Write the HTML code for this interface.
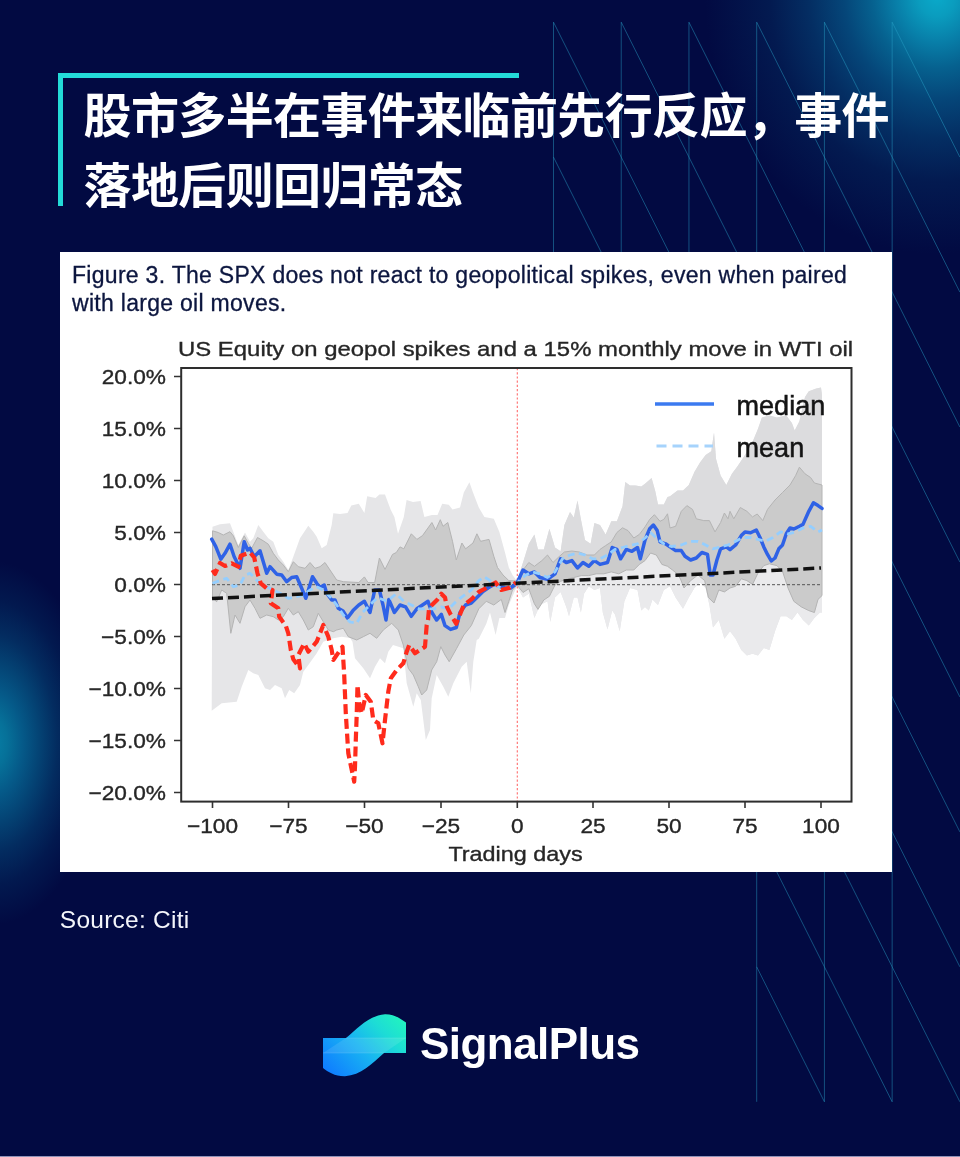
<!DOCTYPE html>
<html lang="zh-CN">
<head>
<meta charset="utf-8">
<title>SignalPlus</title>
<style>
html,body{margin:0;padding:0;}
body{width:960px;height:1157px;overflow:hidden;position:relative;background:#020a42;font-family:"Liberation Sans","Noto Sans CJK SC",sans-serif;}
#bg{position:absolute;left:0;top:0;width:960px;height:1157px;
 background:
  radial-gradient(ellipse 232px 258px at 937px -4px, #0aaaca 0%, #0a9cbe 8%, #087ea8 18%, #06618f 28%, #054679 40%, #042e63 55%, #031a50 72%, rgba(2,10,66,0) 100%),
  radial-gradient(ellipse 108px 182px at -8px 743px, #077fa6 0%, #067199 14%, #055a89 28%, #044374 44%, #032c60 60%, #02194f 78%, rgba(2,10,66,0) 100%),
  #020a42;}
#lines{position:absolute;left:0;top:0;}
#tbar{position:absolute;left:57.5px;top:73px;width:461.5px;height:5px;background:#23dbd8;}
#lbar{position:absolute;left:57.5px;top:73px;width:5px;height:133px;background:#23dbd8;}
h1{position:absolute;left:83.5px;top:82.2px;margin:0;width:870px;font-family:"Liberation Sans","Noto Sans CJK SC",sans-serif;font-weight:700;font-size:48px;line-height:69.5px;color:#fff;letter-spacing:-0.62px;white-space:nowrap;}
#card{position:absolute;left:60px;top:252px;width:832px;height:620px;background:#fff;}
#cap{position:absolute;left:12px;top:10px;font-size:23px;line-height:27.6px;color:#0c163f;white-space:nowrap;letter-spacing:0.29px;-webkit-text-stroke:0.3px #0c163f;}
#src{position:absolute;left:59.8px;top:906px;font-size:24.5px;color:#f4f6fb;white-space:nowrap;letter-spacing:0.25px;}
#logo{position:absolute;left:323px;top:1014px;}
#brand{position:absolute;left:420px;top:1018.8px;font-size:44px;font-weight:700;color:#fff;white-space:nowrap;letter-spacing:-0.55px;}
#botline{position:absolute;left:0;top:1156px;width:960px;height:1px;background:#8e92b8;}
</style>
</head>
<body>
<div id="bg"></div>
<svg id="lines" width="960" height="1157" viewBox="0 0 960 1157"><path d="M553.50 22.2V292.1M553.50 22.20L621.23 157.15M553.50 157.15L621.23 292.10M621.23 22.2V292.1M621.23 22.20L688.96 157.15M621.23 157.15L688.96 292.10M688.96 22.2V292.1M688.96 22.20L756.69 157.15M688.96 157.15L756.69 292.10M756.69 22.2V1101.8M756.69 22.20L824.42 157.15M756.69 157.15L824.42 292.10M756.69 292.10L824.42 427.05M756.69 427.05L824.42 562.00M756.69 562.00L824.42 696.95M756.69 696.95L824.42 831.90M756.69 831.90L824.42 966.85M756.69 966.85L824.42 1101.80M824.42 22.2V1101.8M824.42 22.20L892.15 157.15M824.42 157.15L892.15 292.10M824.42 292.10L892.15 427.05M824.42 427.05L892.15 562.00M824.42 562.00L892.15 696.95M824.42 696.95L892.15 831.90M824.42 831.90L892.15 966.85M824.42 966.85L892.15 1101.80M892.15 22.2V1101.8M892.15 22.20L959.88 157.15M892.15 157.15L959.88 292.10M892.15 292.10L959.88 427.05M892.15 427.05L959.88 562.00M892.15 562.00L959.88 696.95M892.15 696.95L959.88 831.90M892.15 831.90L959.88 966.85M892.15 966.85L959.88 1101.80" fill="none" stroke="#2aa6cc" stroke-opacity=".5" stroke-width="0.9"/></svg>
<div id="tbar"></div><div id="lbar"></div>
<h1>股市多半在事件来临前先行反应，事件<br>落地后则回归常态</h1>
<div id="card">
<div id="cap">Figure 3. The SPX does not react to geopolitical spikes, even when paired<br>with large oil moves.</div>
<svg id="chart" width="832" height="620" viewBox="60 252 832 620" style="position:absolute;left:0;top:0;filter:blur(0.4px)" font-family="Liberation Sans, Arial, sans-serif">
<path d="M212.5 526.7 L220.0 524.2 L230.0 523.3 L233.3 531.7 L238.3 545.0 L245.0 532.5 L250.0 541.7 L253.3 538.3 L258.3 525.0 L263.3 531.7 L268.3 538.3 L273.3 541.7 L278.3 555.0 L283.3 561.7 L288.3 570.0 L293.3 556.7 L300.0 538.3 L308.3 525.8 L313.3 531.7 L316.7 536.7 L321.7 548.3 L326.7 545.0 L331.7 525.0 L333.3 513.3 L340.0 514.0 L347.5 513.0 L351.3 505.6 L358.8 503.8 L364.4 513.0 L367.2 496.3 L375.6 498.0 L379.4 494.4 L385.0 494.4 L390.6 509.4 L394.4 516.9 L398.0 533.8 L403.8 516.9 L406.6 500.0 L413.0 501.9 L420.6 501.0 L424.4 516.9 L431.9 515.0 L437.5 515.0 L442.2 503.8 L448.8 504.7 L452.5 509.4 L460.0 507.5 L463.8 492.5 L469.4 482.2 L473.0 492.5 L478.8 507.5 L484.4 516.9 L493.8 518.8 L499.4 531.9 L505.0 552.5 L508.8 567.5 L512.5 575.0 L517.0 581.0 L523.0 562.5 L528.8 543.8 L534.4 534.4 L538.0 549.4 L543.8 549.4 L549.4 528.8 L555.0 547.5 L560.6 551.3 L564.4 525.0 L570.0 511.9 L573.8 517.5 L577.5 500.6 L581.3 521.3 L585.0 540.0 L590.6 543.8 L594.4 523.0 L600.0 525.0 L605.6 534.4 L611.3 521.3 L616.9 521.3 L622.5 506.3 L625.3 481.9 L630.0 485.6 L635.6 485.6 L641.3 486.6 L645.0 483.8 L651.6 478.0 L655.3 491.3 L658.0 504.4 L663.8 504.4 L667.5 496.9 L670.0 496.3 L677.5 490.6 L683.0 490.6 L688.8 485.0 L694.4 471.9 L700.0 462.5 L705.6 455.0 L711.3 451.3 L714.0 432.5 L716.0 458.8 L720.6 475.6 L726.3 485.0 L731.9 473.8 L737.5 466.3 L745.0 455.0 L752.5 441.9 L758.0 428.8 L761.9 417.5 L769.4 415.6 L776.9 417.5 L786.3 415.6 L791.9 423.0 L794.7 430.6 L799.4 421.3 L805.0 396.9 L808.8 391.3 L816.3 388.4 L821.0 387.5 L822.0 395.0 L822.0 612.5 L820.0 612.5 L814.4 618.0 L808.8 625.6 L803.0 620.0 L797.5 612.5 L791.9 620.0 L786.3 616.3 L780.6 616.3 L775.0 631.3 L769.4 650.0 L763.8 648.0 L758.0 655.6 L752.5 653.8 L746.9 655.6 L741.3 650.0 L735.6 638.8 L730.0 631.3 L724.4 638.8 L718.8 620.0 L713.0 627.5 L709.4 605.0 L705.6 588.0 L700.0 582.5 L694.4 588.0 L688.8 597.5 L683.0 608.8 L675.6 597.5 L670.0 586.3 L663.8 590.0 L658.0 605.0 L652.5 599.4 L648.8 610.6 L645.0 606.9 L641.3 610.6 L637.5 590.0 L630.0 588.0 L624.4 601.3 L619.7 631.3 L615.0 614.4 L612.2 610.6 L607.5 629.4 L602.8 612.5 L600.0 588.0 L594.4 590.0 L588.8 586.3 L584.0 593.8 L580.9 612.5 L577.5 597.5 L573.8 597.5 L569.0 616.3 L566.3 606.9 L560.6 591.9 L555.0 597.5 L550.3 621.9 L547.5 601.3 L540.0 605.0 L534.4 618.0 L528.8 593.8 L523.0 597.5 L517.0 586.3 L514.4 592.0 L508.8 605.0 L505.0 618.0 L499.4 618.0 L495.6 635.0 L490.0 612.5 L486.3 623.8 L478.8 638.8 L476.7 640.0 L473.3 661.7 L470.8 693.3 L466.7 661.7 L461.7 666.7 L453.3 683.3 L448.3 696.7 L443.3 686.7 L436.7 675.0 L431.7 698.3 L430.0 730.0 L425.8 740.0 L420.8 700.0 L416.7 693.3 L413.3 706.7 L406.7 683.3 L403.3 648.3 L393.0 645.0 L388.3 651.7 L385.0 663.3 L380.0 658.3 L375.0 666.7 L370.0 678.3 L363.3 668.3 L355.0 658.3 L352.5 641.7 L350.0 638.0 L341.7 636.7 L333.3 638.3 L323.3 641.7 L316.7 653.3 L308.3 665.0 L303.3 671.7 L300.0 685.0 L294.2 693.3 L289.2 690.0 L285.0 698.3 L281.7 688.3 L275.0 685.0 L270.0 690.0 L265.0 688.3 L258.3 675.0 L253.3 673.3 L248.3 670.0 L241.7 686.7 L236.7 701.7 L221.7 703.3 L211.7 710.8Z" fill="#e6e6e8"/>
<path d="M517.0 581.0 L523.0 562.5 L528.8 543.8 L534.4 534.4 L538.0 549.4 L543.8 549.4 L549.4 528.8 L555.0 547.5 L560.6 551.3 L564.4 525.0 L570.0 511.9 L573.8 517.5 L577.5 500.6 L581.3 521.3 L585.0 540.0 L590.6 543.8 L594.4 523.0 L600.0 525.0 L605.6 534.4 L611.3 521.3 L616.9 521.3 L622.5 506.3 L625.3 481.9 L630.0 485.6 L635.6 485.6 L641.3 486.6 L645.0 483.8 L651.6 478.0 L655.3 491.3 L658.0 504.4 L663.8 504.4 L667.5 496.9 L670.0 496.3 L677.5 490.6 L683.0 490.6 L688.8 485.0 L694.4 471.9 L700.0 462.5 L705.6 455.0 L711.3 451.3 L714.0 432.5 L716.0 458.8 L720.6 475.6 L726.3 485.0 L731.9 473.8 L737.5 466.3 L745.0 455.0 L752.5 441.9 L758.0 428.8 L761.9 417.5 L769.4 415.6 L776.9 417.5 L786.3 415.6 L791.9 423.0 L794.7 430.6 L799.4 421.3 L805.0 396.9 L808.8 391.3 L816.3 388.4 L821.0 387.5 L822.0 395.0 L822.0 485.0 L814.4 483.0 L810.6 477.5 L805.0 473.8 L799.4 467.2 L795.6 475.6 L790.0 485.0 L782.5 492.5 L775.0 500.0 L767.5 509.4 L762.8 520.6 L757.2 514.0 L752.5 516.9 L746.9 511.3 L740.3 507.5 L733.8 518.8 L730.0 511.3 L728.0 518.8 L724.4 513.0 L720.6 522.5 L715.0 531.9 L709.4 520.6 L703.8 520.6 L696.3 518.8 L692.5 509.4 L686.9 505.6 L681.3 511.3 L675.6 526.3 L670.0 528.0 L667.5 513.8 L663.8 519.4 L660.0 521.3 L654.4 514.7 L649.7 519.4 L645.0 526.9 L639.4 534.4 L633.8 538.0 L628.0 530.6 L622.5 527.8 L616.9 532.5 L611.3 541.9 L605.6 545.6 L600.0 549.4 L594.4 555.0 L586.9 555.0 L579.4 552.0 L571.9 551.0 L564.4 552.0 L558.8 556.9 L553.0 562.5 L547.5 555.0 L541.9 560.6 L534.4 566.3 L528.8 562.5 L523.0 570.0 L517.0 581.0Z" fill="#dcdcde"/>
<path d="M517.0 585.0 L523.0 592.5 L528.8 588.8 L534.4 603.8 L538.0 609.4 L543.8 600.0 L549.4 596.3 L555.0 585.0 L560.6 581.3 L566.3 579.4 L573.8 577.5 L581.3 575.6 L588.8 575.6 L596.3 573.8 L603.8 573.8 L611.3 571.9 L618.8 573.8 L626.3 570.0 L633.8 570.0 L639.4 564.4 L645.0 560.6 L650.6 553.0 L656.3 555.0 L661.9 564.4 L667.5 566.3 L672.5 570.0 L677.5 574.0 L680.5 579.0 L684.0 588.0 L690.6 580.6 L698.0 575.0 L704.7 580.6 L708.4 597.5 L714.0 603.0 L718.8 590.0 L724.4 591.9 L730.0 588.0 L735.6 586.3 L741.3 578.8 L746.9 580.6 L752.5 584.4 L758.0 573.0 L763.8 565.6 L769.4 563.8 L776.9 565.6 L782.5 571.3 L788.0 588.0 L793.8 601.3 L801.3 606.9 L808.8 610.6 L814.4 612.5 L818.0 599.4 L822.0 595.6 L822.0 612.5 L820.0 612.5 L814.4 618.0 L808.8 625.6 L803.0 620.0 L797.5 612.5 L791.9 620.0 L786.3 616.3 L780.6 616.3 L775.0 631.3 L769.4 650.0 L763.8 648.0 L758.0 655.6 L752.5 653.8 L746.9 655.6 L741.3 650.0 L735.6 638.8 L730.0 631.3 L724.4 638.8 L718.8 620.0 L713.0 627.5 L709.4 605.0 L705.6 588.0 L700.0 582.5 L694.4 588.0 L688.8 597.5 L683.0 608.8 L675.6 597.5 L670.0 586.3 L663.8 590.0 L658.0 605.0 L652.5 599.4 L648.8 610.6 L645.0 606.9 L641.3 610.6 L637.5 590.0 L630.0 588.0 L624.4 601.3 L619.7 631.3 L615.0 614.4 L612.2 610.6 L607.5 629.4 L602.8 612.5 L600.0 588.0 L594.4 590.0 L588.8 586.3 L584.0 593.8 L580.9 612.5 L577.5 597.5 L573.8 597.5 L569.0 616.3 L566.3 606.9 L560.6 591.9 L555.0 597.5 L550.3 621.9 L547.5 601.3 L540.0 605.0 L534.4 618.0 L528.8 593.8 L523.0 597.5 L517.0 586.3Z" fill="#eaeaec"/>
<path d="M212.5 530.8 L218.3 532.5 L223.3 535.0 L230.0 531.7 L233.3 535.8 L238.3 547.5 L244.2 535.8 L248.3 543.3 L251.7 548.3 L257.5 537.5 L263.3 540.8 L268.3 544.2 L273.3 553.3 L278.3 560.0 L283.3 565.0 L288.3 571.7 L293.3 561.7 L298.3 566.7 L305.0 568.3 L310.0 562.5 L315.0 568.3 L320.0 566.7 L325.0 562.5 L330.0 570.0 L336.7 580.0 L343.3 581.7 L358.8 582.5 L364.4 576.9 L368.0 582.5 L374.7 582.5 L379.4 558.0 L385.0 569.4 L392.5 554.4 L396.3 552.5 L400.0 546.9 L403.8 548.8 L411.3 533.8 L416.9 539.4 L422.5 535.6 L431.9 522.5 L435.6 530.0 L440.3 519.7 L443.0 526.3 L447.8 522.5 L452.5 541.3 L456.3 560.0 L461.9 543.0 L465.6 548.8 L473.0 543.0 L476.9 533.8 L480.6 541.3 L489.0 539.4 L493.8 556.3 L497.5 567.5 L503.0 575.0 L508.8 580.6 L517.0 581.0 L523.0 570.0 L528.8 562.5 L534.4 566.3 L541.9 560.6 L547.5 555.0 L553.0 562.5 L558.8 556.9 L564.4 552.0 L571.9 551.0 L579.4 552.0 L586.9 555.0 L594.4 555.0 L600.0 549.4 L605.6 545.6 L611.3 541.9 L616.9 532.5 L622.5 527.8 L628.0 530.6 L633.8 538.0 L639.4 534.4 L645.0 526.9 L649.7 519.4 L654.4 514.7 L660.0 521.3 L663.8 519.4 L667.5 513.8 L670.0 528.0 L675.6 526.3 L681.3 511.3 L686.9 505.6 L692.5 509.4 L696.3 518.8 L703.8 520.6 L709.4 520.6 L715.0 531.9 L720.6 522.5 L724.4 513.0 L728.0 518.8 L730.0 511.3 L733.8 518.8 L740.3 507.5 L746.9 511.3 L752.5 516.9 L757.2 514.0 L762.8 520.6 L767.5 509.4 L775.0 500.0 L782.5 492.5 L790.0 485.0 L795.6 475.6 L799.4 467.2 L805.0 473.8 L810.6 477.5 L814.4 483.0 L822.0 485.0 L822.0 595.6 L818.0 599.4 L814.4 612.5 L808.8 610.6 L801.3 606.9 L793.8 601.3 L788.0 588.0 L782.5 571.3 L776.9 565.6 L769.4 563.8 L763.8 565.6 L758.0 573.0 L752.5 584.4 L746.9 580.6 L741.3 578.8 L735.6 586.3 L730.0 588.0 L724.4 591.9 L718.8 590.0 L714.0 603.0 L708.4 597.5 L704.7 580.6 L698.0 575.0 L690.6 580.6 L684.0 588.0 L680.5 579.0 L677.5 574.0 L672.5 570.0 L667.5 566.3 L661.9 564.4 L656.3 555.0 L650.6 553.0 L645.0 560.6 L639.4 564.4 L633.8 570.0 L626.3 570.0 L618.8 573.8 L611.3 571.9 L603.8 573.8 L596.3 573.8 L588.8 575.6 L581.3 575.6 L573.8 577.5 L566.3 579.4 L560.6 581.3 L555.0 585.0 L549.4 596.3 L543.8 600.0 L538.0 609.4 L534.4 603.8 L528.8 588.8 L523.0 592.5 L517.0 585.0 L512.5 590.0 L508.8 601.3 L505.0 612.5 L501.3 599.4 L493.8 605.0 L486.3 601.3 L478.8 608.8 L471.3 625.6 L463.8 635.0 L456.7 648.3 L449.2 661.7 L445.0 655.0 L440.8 646.7 L436.7 661.7 L431.7 670.0 L426.7 690.0 L421.7 695.0 L418.3 686.7 L413.3 675.0 L408.3 668.3 L403.3 645.0 L398.3 630.0 L391.7 623.3 L383.3 630.0 L376.7 638.3 L370.0 633.3 L363.3 636.7 L356.7 640.0 L348.3 636.7 L343.3 628.3 L336.7 630.0 L333.3 631.7 L328.3 630.0 L323.3 621.7 L318.3 613.3 L313.3 626.7 L308.3 630.0 L303.3 620.0 L298.3 611.7 L293.3 615.0 L288.3 608.3 L283.3 616.7 L278.3 620.0 L273.3 616.7 L266.7 615.0 L260.0 618.3 L255.0 608.3 L250.0 600.0 L245.0 606.7 L240.0 623.3 L235.0 615.0 L230.8 633.3 L226.7 593.3 L221.7 590.0 L216.7 601.7 L212.5 598.0Z" fill="#cbcbcb" stroke="#b4b4b4" stroke-width="1" stroke-linejoin="round"/>
<path d="M212 584.7H822" stroke="#555" stroke-width="1" stroke-dasharray="3 2" fill="none"/>
<path d="M517.3 368V801" stroke="#ff6c6c" stroke-width="1.1" stroke-dasharray="2.2 2" fill="none"/>
<path d="M211.7 539.2 L215.8 546.7 L220.8 559.2 L225.0 553.3 L230.0 544.2 L234.2 556.7 L240.0 568.3 L244.2 541.7 L247.5 550.0 L250.0 548.3 L254.2 556.7 L260.0 550.8 L266.7 573.3 L270.0 566.7 L276.7 574.2 L281.7 575.0 L286.7 581.7 L291.7 577.5 L296.7 576.7 L301.7 588.3 L305.8 598.3 L312.5 576.7 L316.7 583.3 L320.0 587.5 L324.2 585.0 L326.7 593.3 L331.7 600.0 L335.0 600.0 L338.3 608.3 L343.0 611.0 L347.5 618.0 L353.0 610.6 L358.8 605.0 L364.4 601.3 L370.0 612.5 L374.7 590.0 L379.4 590.0 L383.0 605.0 L386.0 620.0 L388.8 599.4 L394.4 612.5 L400.0 605.0 L405.6 606.9 L411.3 616.3 L416.9 608.8 L422.5 605.0 L428.0 601.3 L431.9 612.5 L436.6 620.0 L441.3 614.4 L445.0 625.6 L450.6 629.4 L456.3 627.5 L460.0 612.5 L465.6 605.0 L471.3 603.0 L476.9 597.5 L482.5 591.9 L488.0 588.0 L493.8 584.4 L499.4 586.3 L505.0 588.0 L510.6 588.0 L517.0 583.0 L523.0 570.0 L528.8 573.8 L534.4 571.9 L540.0 577.5 L547.5 579.4 L555.0 573.8 L560.6 558.8 L566.3 562.5 L571.9 560.6 L577.5 568.0 L583.0 562.5 L588.8 566.3 L594.4 560.6 L600.0 564.4 L607.5 562.5 L612.2 547.5 L616.9 549.4 L620.6 558.8 L626.3 549.4 L631.9 551.3 L637.5 547.5 L640.3 558.8 L645.0 540.0 L649.7 528.8 L653.4 525.0 L657.2 530.6 L660.0 541.9 L665.6 543.8 L670.0 546.9 L675.6 550.6 L681.3 550.6 L685.0 556.3 L690.6 560.0 L696.3 558.0 L701.9 552.5 L707.5 554.4 L710.3 575.0 L713.0 575.0 L716.9 560.0 L720.6 548.8 L726.3 546.9 L730.0 549.7 L735.6 545.0 L741.3 535.6 L745.0 531.9 L750.6 532.8 L756.3 530.0 L760.0 537.5 L763.8 546.9 L767.5 554.4 L771.3 561.0 L775.0 558.0 L778.8 548.8 L782.5 545.0 L786.3 533.8 L790.0 528.0 L793.8 529.0 L799.4 526.3 L803.0 524.4 L808.8 511.3 L813.4 502.8 L818.0 505.6 L822.0 508.4" fill="none" stroke="#2f62e6" stroke-width="3.5" stroke-linejoin="round" stroke-linecap="round"/>
<path d="M212.5 583.3 L221.7 580.0 L226.7 578.3 L233.3 586.7 L240.0 585.0 L245.0 575.0 L250.0 573.3 L255.0 578.3 L260.0 583.3 L266.7 586.7 L273.3 590.0 L280.0 593.3 L288.3 598.3 L296.7 596.7 L303.3 595.0 L310.0 590.0 L316.7 586.7 L323.3 590.0 L330.0 596.7 L336.7 605.0 L343.3 615.0 L350.0 622.0 L356.7 623.3 L362.5 612.5 L370.0 605.0 L377.5 597.5 L386.9 601.3 L396.3 593.8 L403.8 601.3 L411.3 605.0 L418.8 608.8 L426.3 608.8 L433.8 608.8 L441.3 606.9 L448.8 608.8 L456.3 601.3 L463.8 595.6 L471.3 590.0 L478.8 580.6 L484.4 576.9 L490.0 580.6 L497.5 586.3 L505.0 590.0 L512.5 586.3 L517.0 583.0 L525.0 575.6 L532.5 571.9 L540.0 573.8 L547.5 577.5 L555.0 571.9 L562.5 558.8 L570.0 555.0 L577.5 553.0 L585.0 555.0 L592.5 558.8 L600.0 558.8 L607.5 555.0 L615.0 549.4 L622.5 547.5 L630.0 545.6 L637.5 543.8 L645.0 538.0 L650.6 532.5 L656.3 538.0 L663.8 543.8 L671.3 546.5 L681.3 545.0 L690.6 541.3 L698.0 541.3 L705.6 545.0 L713.0 548.8 L720.6 546.9 L728.0 545.0 L735.6 541.3 L743.0 537.5 L750.6 537.5 L758.0 539.4 L765.6 541.3 L773.0 537.5 L780.6 531.9 L788.0 533.8 L795.6 531.9 L803.0 528.0 L810.6 526.3 L818.0 531.9 L822.0 530.0" fill="none" stroke="#94ceff" stroke-width="2.8" stroke-dasharray="7 4.5" stroke-linejoin="round"/>
<path d="M212.5 570.0 L215.0 574.0 L220.0 563.0 L225.0 566.0 L231.7 563.3 L238.3 566.7 L240.8 555.8 L250.0 552.5 L254.2 557.5 L257.5 573.3 L260.8 583.3 L266.7 588.3 L272.5 590.0 L270.8 603.3 L278.3 608.3 L279.2 616.7 L285.8 625.8 L288.3 633.3 L290.8 650.0 L293.3 659.2 L300.0 668.3 L298.3 655.0 L304.2 643.3 L308.3 651.7 L316.7 641.7 L320.0 633.3 L323.3 625.0 L328.3 636.7 L331.7 650.0 L333.3 660.0 L342.5 646.7 L344.2 675.0 L345.8 713.3 L348.3 753.3 L354.2 781.7 L355.0 766.7 L355.8 740.0 L356.7 715.0 L357.5 685.0 L359.2 703.3 L361.7 713.3 L365.8 695.0 L370.8 701.7 L373.3 720.0 L378.3 723.3 L382.5 743.3 L385.0 720.0 L388.3 691.7 L390.8 678.3 L396.7 670.0 L403.3 663.3 L406.7 651.7 L409.2 645.0 L415.0 653.3 L425.0 646.7 L426.7 625.0 L428.0 620.0 L429.0 608.8 L431.9 605.0 L437.5 599.4 L441.3 593.8 L445.0 597.5 L446.9 606.9 L450.6 614.4 L456.3 623.8 L460.0 614.4 L463.8 605.0 L471.3 599.4 L478.8 591.9 L486.3 588.0 L495.6 582.5 L501.3 590.0 L508.8 588.0 L516.0 582.5" fill="none" stroke="#ff2b1c" stroke-width="4.2" stroke-dasharray="10 4.8" stroke-linejoin="round"/>
<path d="M212 598.5L821 568" fill="none" stroke="#111" stroke-width="3.5" stroke-dasharray="11 5"/>
<rect x="181.2" y="368" width="670.3" height="433.6" fill="none" stroke="#2e2e2e" stroke-width="2"/>
<text transform="translate(166 384.1) scale(1.08 1)" font-size="21" text-anchor="end" fill="#262626" stroke="#262626" stroke-width="0.35">20.0%</text>
<text transform="translate(166 436.1) scale(1.08 1)" font-size="21" text-anchor="end" fill="#262626" stroke="#262626" stroke-width="0.35">15.0%</text>
<text transform="translate(166 488.1) scale(1.08 1)" font-size="21" text-anchor="end" fill="#262626" stroke="#262626" stroke-width="0.35">10.0%</text>
<text transform="translate(166 540.1) scale(1.08 1)" font-size="21" text-anchor="end" fill="#262626" stroke="#262626" stroke-width="0.35">5.0%</text>
<text transform="translate(166 592.1) scale(1.08 1)" font-size="21" text-anchor="end" fill="#262626" stroke="#262626" stroke-width="0.35">0.0%</text>
<text transform="translate(166 644.1) scale(1.08 1)" font-size="21" text-anchor="end" fill="#262626" stroke="#262626" stroke-width="0.35">−5.0%</text>
<text transform="translate(166 696.1) scale(1.08 1)" font-size="21" text-anchor="end" fill="#262626" stroke="#262626" stroke-width="0.35">−10.0%</text>
<text transform="translate(166 748.1) scale(1.08 1)" font-size="21" text-anchor="end" fill="#262626" stroke="#262626" stroke-width="0.35">−15.0%</text>
<text transform="translate(166 800.1) scale(1.08 1)" font-size="21" text-anchor="end" fill="#262626" stroke="#262626" stroke-width="0.35">−20.0%</text>
<text transform="translate(212.5 833) scale(1.08 1)" font-size="21" text-anchor="middle" fill="#262626" stroke="#262626" stroke-width="0.35">−100</text>
<text transform="translate(288.5 833) scale(1.08 1)" font-size="21" text-anchor="middle" fill="#262626" stroke="#262626" stroke-width="0.35">−75</text>
<text transform="translate(364.5 833) scale(1.08 1)" font-size="21" text-anchor="middle" fill="#262626" stroke="#262626" stroke-width="0.35">−50</text>
<text transform="translate(441 833) scale(1.08 1)" font-size="21" text-anchor="middle" fill="#262626" stroke="#262626" stroke-width="0.35">−25</text>
<text transform="translate(517.3 833) scale(1.08 1)" font-size="21" text-anchor="middle" fill="#262626" stroke="#262626" stroke-width="0.35">0</text>
<text transform="translate(593 833) scale(1.08 1)" font-size="21" text-anchor="middle" fill="#262626" stroke="#262626" stroke-width="0.35">25</text>
<text transform="translate(669 833) scale(1.08 1)" font-size="21" text-anchor="middle" fill="#262626" stroke="#262626" stroke-width="0.35">50</text>
<text transform="translate(745 833) scale(1.08 1)" font-size="21" text-anchor="middle" fill="#262626" stroke="#262626" stroke-width="0.35">75</text>
<text transform="translate(821 833) scale(1.08 1)" font-size="21" text-anchor="middle" fill="#262626" stroke="#262626" stroke-width="0.35">100</text>
<path d="M174 376.5H181M174 428.5H181M174 480.5H181M174 532.5H181M174 584.5H181M174 636.5H181M174 688.5H181M174 740.5H181M174 792.5H181M212.5 802V808M288.5 802V808M364.5 802V808M441 802V808M517.3 802V808M593 802V808M669 802V808M745 802V808M821 802V808" stroke="#333" stroke-width="1.6" fill="none"/>
<text transform="translate(515.5 860.7) scale(1.14 1)" font-size="20.5" text-anchor="middle" fill="#262626" stroke="#262626" stroke-width="0.35">Trading days</text>
<text transform="translate(178 356) scale(1.139 1)" font-size="21" text-anchor="start" fill="#262626" stroke="#262626" stroke-width="0.35">US Equity on geopol spikes and a 15% monthly move in WTI oil</text>
<path d="M655 404H714" stroke="#3b7af0" stroke-width="3.4" fill="none"/>
<path d="M656.5 446H713" stroke="#a6d3fc" stroke-width="3.2" stroke-dasharray="10 6" fill="none"/>
<text transform="translate(736.5 415) scale(0.95 1)" font-size="28.5" text-anchor="start" fill="#141414" stroke="#141414" stroke-width="0.55">median</text>
<text transform="translate(736.5 457) scale(0.95 1)" font-size="28.5" text-anchor="start" fill="#141414" stroke="#141414" stroke-width="0.55">mean</text>
</svg>
</div>
<div id="src">Source: Citi</div>
<svg id="logo" width="84" height="63" viewBox="0 0 84 63">
<defs>
<linearGradient id="lg1" x1="0" y1=".85" x2="1" y2=".15"><stop offset="0" stop-color="#0f7dff"/><stop offset=".45" stop-color="#18b4f2"/><stop offset=".75" stop-color="#1ddcd6"/><stop offset="1" stop-color="#22f2c0"/></linearGradient>
</defs>
<path d="M0 24H23C35 14 46 1.5 62 0.2C70 0 77 4 83 8.500V39H61C49 50 38 61 22 62.300C12 62.500 5 58 0 54Z" fill="url(#lg1)"/>
<path d="M0 39L23 24H83L61 39Z" fill="#fff" fill-opacity=".10"/>
<path d="M23 24H83M0 39H61" stroke="#fff" stroke-opacity=".12" stroke-width="1" fill="none"/>
</svg>
<div id="brand">SignalPlus</div>
<div id="botline"></div>
</body>
</html>
